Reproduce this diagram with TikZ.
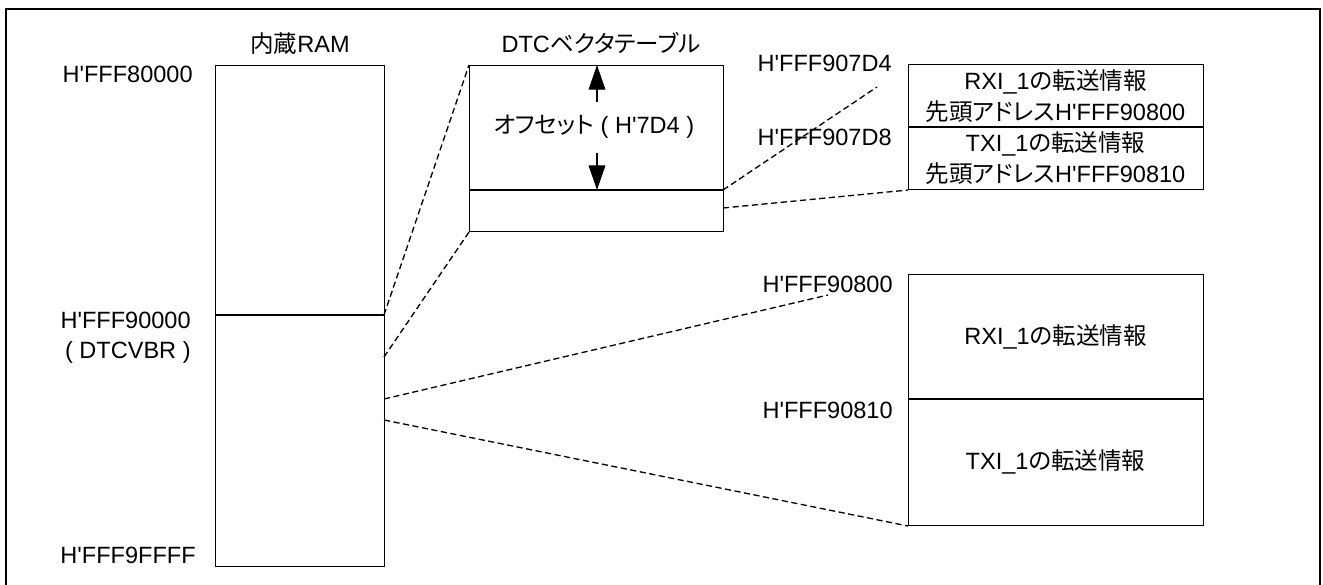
\documentclass[tikz,border=0pt]{standalone}
\usepackage{fontspec}
\setmainfont{Liberation Sans}
\newfontfamily\jp[RawFeature=+palt]{Noto Sans CJK JP}
\usetikzlibrary{arrows.meta}
\newcommand{\hx}{H\textquotesingle}
\begin{document}
\begin{tikzpicture}[x=0.02cm, y=-0.02cm, font=\fontsize{13.4pt}{18pt}\selectfont,
  box/.style={draw, line width=0.6pt, inner sep=0pt, anchor=north west},
  sep/.style={line width=0.6pt},
  lnk/.style={line width=0.75pt, dash pattern=on 3.5pt off 2pt},
  addr/.style={anchor=base east, inner sep=0pt},
  offs/.style={line width=0.6pt, -{Triangle[length=14pt,width=9.5pt]}}]
\useasboundingbox (0,0) rectangle (1323,585);
\draw[line width=1.4pt] (6,600) -- (6,9) -- (1320,9) -- (1320,600);
% internal RAM
\node[box, minimum width=3.38cm, minimum height=10.02cm] (ram) at (215,65) {};
\draw[sep] (215,315) -- (384,315);
\node[anchor=base, inner sep=0pt] (ramtitle) at (300,52) {{\jp 内蔵}RAM};
\node[addr] (ram0) at (193,82) {\hx FFF80000};
\node[addr] (ram1) at (191,328) {\hx FFF90000};
\node[addr] (vbr) at (191,358) {( DTCVBR )};
\node[addr] (ram2) at (196,563) {\hx FFF9FFFF};
\coordinate (ramA) at (384,315);
\coordinate (ramB) at (384,357);
\coordinate (ramC) at (384,399);
\coordinate (ramD) at (384,420);
% DTC vector table
\node[box, minimum width=5.08cm, minimum height=3.32cm] (dtc) at (469,65) {};
\draw[sep] (469,190) -- (723,190);
\node[anchor=base, inner sep=0pt] (dtctitle) at (601,52) {DTC{\jp ベクタテーブル}};
\node (offset) at (594,127) {{\jp オフセット} ( \hx 7D4 )};
\coordinate (offtop) at (597,102);
\coordinate (offbot) at (597,153);
\draw[offs] (offtop) -- (597,65);
\draw[offs] (offbot) -- (597,190);
\coordinate (dtcA) at (723,190);
\coordinate (dtcB) at (723,208);
% vector entries
\node[box, minimum width=5.9cm, minimum height=2.5cm] (vec) at (908,64) {};
\draw[sep] (908,127) -- (1203,127);
\node[align=center] (vecrxi) at (1055.5,96) {RXI\_1{\jp の転送情報}\\{\jp 先頭アドレス}\hx FFF90800};
\node[align=center] (vectxi) at (1055.5,158) {TXI\_1{\jp の転送情報}\\{\jp 先頭アドレス}\hx FFF90810};
\node[addr] (vec0) at (892,71) {\hx FFF907D4};
\node[addr] (vec1) at (892,145) {\hx FFF907D8};
\coordinate (vecA) at (877,87);
% transfer information
\node[box, minimum width=5.9cm, minimum height=5.02cm] (info) at (908,274) {};
\draw[sep] (908,399) -- (1203,399);
\node (inforxi) at (1055.5,337) {RXI\_1{\jp の転送情報}};
\node (infotxi) at (1055.5,462) {TXI\_1{\jp の転送情報}};
\node[addr] (info0) at (893,292) {\hx FFF90800};
\node[addr] (info1) at (893,418) {\hx FFF90810};
\coordinate (infoA) at (828,295);
% dashed links
\draw[lnk] (ramA) -- (dtc.north west);
\draw[lnk] (ramB) -- (dtc.south west);
\draw[lnk] (ramC) -- (infoA);
\draw[lnk] (ramD) -- (info.south west);
\draw[lnk] (dtcA) -- (vecA);
\draw[lnk] (dtcB) -- (vec.south west);
\end{tikzpicture}
\end{document}
